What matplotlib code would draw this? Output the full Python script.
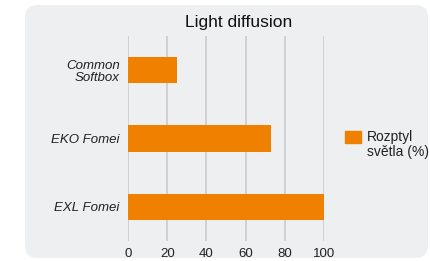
import matplotlib
matplotlib.use("Agg")
import matplotlib.pyplot as plt
from matplotlib.patches import FancyBboxPatch, Rectangle

categories = ["Common\nSoftbox", "EKO Fomei", "EXL Fomei"]
values = [25, 73, 100]
xticks = [0, 20, 40, 60, 80, 100]
series_name = "Rozptyl\nsvětla (%)"
bar_color = "#f08000"

plt.rcParams["font.family"] = ["Liberation Sans", "DejaVu Sans"]

W, H = 430, 261
fig = plt.figure(figsize=(W / 100, H / 100), dpi=100)
fig.patch.set_facecolor("white")

# rounded grey panel behind everything
panel = FancyBboxPatch((25 / W, 3 / H), (428 - 25) / W, (256 - 3) / H,
                       boxstyle="round,pad=0,rounding_size=0.03",
                       transform=fig.transFigure, facecolor="#eeeff1",
                       edgecolor="none", zorder=-10, mutation_aspect=W / H)
fig.patches.append(panel)

ax = fig.add_axes([128 / W, 1 - 241 / H, (324 - 128) / W, (241 - 36) / H])
ax.set_facecolor("none")
ax.barh(range(len(categories)), values, height=0.39, color=bar_color, zorder=3)
ax.set_xlim(0, 100)
ax.set_ylim(2.5, -0.5)
ax.set_xticks(xticks)
ax.set_yticks(range(len(categories)))
ax.set_yticklabels(categories, fontstyle="italic", fontsize=9.5,
                   color="#222222", linespacing=1.0)
ax.tick_params(axis="x", labelsize=9.5, colors="#222222", length=0, pad=5)
ax.tick_params(axis="y", length=0, pad=6)
ax.grid(axis="x", color="#cccccc", linewidth=1.2, zorder=1)
for s in ax.spines.values():
    s.set_visible(False)

fig.text(239 / W, 1 - 23 / H, "Light diffusion", ha="center", va="center",
         fontsize=12.5, color="#111111")

# legend: swatch aligned with the first text line
fig.add_artist(Rectangle((345 / W, 1 - 143 / H), 16 / W, 12 / H,
                         transform=fig.transFigure, color=bar_color))
fig.text(367 / W, 1 - 130 / H, series_name, ha="left", va="top",
         fontsize=10, color="#222222", linespacing=1.05)

fig.savefig("out.png", dpi=100)
